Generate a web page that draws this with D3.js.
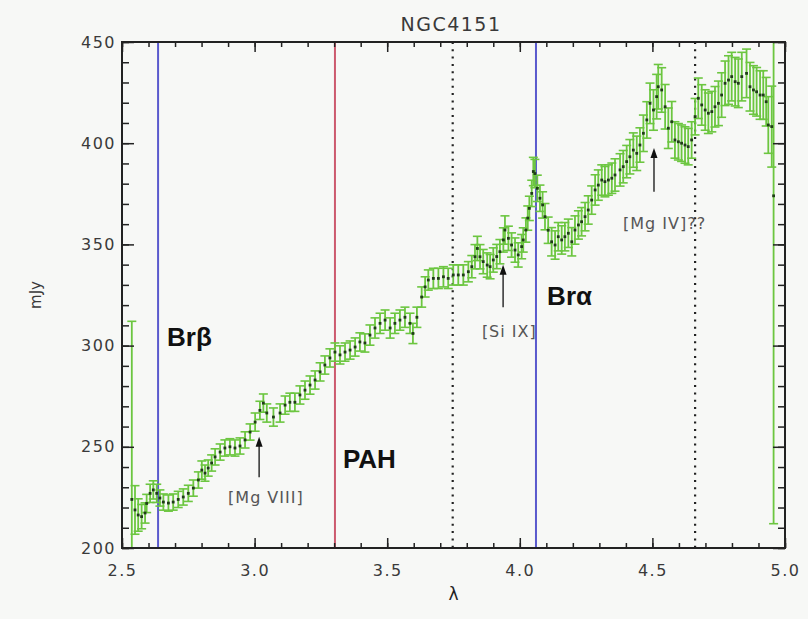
<!DOCTYPE html>
<html>
<head>
<meta charset="utf-8">
<script src="https://cdn.jsdelivr.net/npm/d3@7"></script>
<style>
  body { margin: 0; background: #f7f8f6; }
  svg text { font-family: "DejaVu Sans", sans-serif; }
</style>
</head>
<body>
<div id="chart"></div>
<script>
// spectrum
const lambda = [2.537, 2.549, 2.561, 2.574, 2.587, 2.593, 2.606, 2.618, 2.631, 2.643,
  2.656, 2.675, 2.693, 2.712, 2.731, 2.750, 2.769, 2.788, 2.801, 2.813,
  2.825, 2.838, 2.851, 2.870, 2.888, 2.907, 2.926, 2.945, 2.964, 2.983,
  3.002, 3.020, 3.033, 3.046, 3.071, 3.096, 3.115, 3.133, 3.152, 3.171,
  3.190, 3.209, 3.228, 3.247, 3.265, 3.284, 3.303, 3.322, 3.341, 3.360,
  3.379, 3.397, 3.416, 3.435, 3.454, 3.473, 3.492, 3.511, 3.529, 3.548,
  3.567, 3.586, 3.597, 3.612, 3.630, 3.643, 3.655, 3.674, 3.693, 3.712,
  3.730, 3.749, 3.768, 3.787, 3.806, 3.819, 3.831, 3.840, 3.850, 3.862,
  3.877, 3.888, 3.900, 3.913, 3.925, 3.938, 3.944, 3.957, 3.969, 3.982,
  3.994, 4.007, 4.013, 4.023, 4.030, 4.036, 4.045, 4.051, 4.057, 4.066,
  4.076, 4.086, 4.095, 4.107, 4.120, 4.133, 4.145, 4.158, 4.170, 4.183,
  4.196, 4.208, 4.221, 4.233, 4.246, 4.258, 4.271, 4.284, 4.296, 4.309,
  4.321, 4.334, 4.347, 4.359, 4.378, 4.390, 4.403, 4.415, 4.428, 4.441,
  4.453, 4.466, 4.479, 4.491, 4.504, 4.516, 4.522, 4.535, 4.548, 4.560,
  4.573, 4.585, 4.598, 4.610, 4.623, 4.635, 4.648, 4.661, 4.673, 4.686,
  4.699, 4.711, 4.724, 4.736, 4.749, 4.761, 4.774, 4.787, 4.799, 4.812,
  4.824, 4.837, 4.855, 4.868, 4.881, 4.893, 4.906, 4.918, 4.929, 4.937,
  4.950, 4.957];
const flux = [224.0, 218.8, 216.3, 215.5, 217.3, 222.0, 227.0, 228.7, 227.0, 224.7,
  222.7, 222.2, 222.7, 224.0, 225.2, 227.0, 229.6, 233.6, 238.5, 237.0,
  239.5, 242.0, 245.0, 247.4, 249.4, 250.0, 249.4, 250.4, 253.4, 257.3,
  262.2, 268.0, 271.6, 266.7, 264.7, 266.7, 270.6, 272.0, 272.0, 275.6,
  278.0, 280.5, 283.0, 287.0, 290.4, 293.9, 296.8, 295.4, 296.8, 297.8,
  299.3, 301.8, 301.3, 305.2, 308.7, 311.0, 312.6, 308.7, 311.0, 312.6,
  314.0, 311.0, 306.0, 314.0, 324.0, 329.0, 332.4, 333.2, 333.2, 334.0,
  333.2, 334.9, 334.9, 334.9, 336.5, 339.0, 343.9, 348.0, 343.9, 341.5,
  339.8, 339.0, 342.3, 344.0, 346.4, 352.2, 357.1, 353.0, 349.7, 347.2,
  344.8, 348.9, 352.2, 357.1, 363.0, 367.8, 375.2, 386.0, 385.0, 377.7,
  372.8, 369.5, 363.7, 357.0, 351.3, 349.7, 353.8, 352.2, 353.8, 355.5,
  351.3, 357.1, 359.6, 361.2, 363.7, 367.0, 371.9, 376.9, 379.3, 381.8,
  381.0, 381.8, 382.7, 384.3, 386.8, 388.4, 390.9, 393.3, 396.6, 395.0,
  399.1, 404.9, 411.5, 419.7, 416.4, 423.0, 427.9, 426.3, 418.0, 407.4,
  410.6, 401.6, 400.7, 400.0, 399.1, 398.3, 401.6, 413.1, 422.2, 418.9,
  416.4, 414.8, 415.6, 418.0, 419.7, 423.8, 429.6, 431.2, 432.9, 430.4,
  429.6, 432.9, 434.5, 427.9, 426.3, 425.4, 423.8, 423.8, 420.5, 409.0,
  408.2, 374.0];
const fluxErr = [88, 12, 8, 6, 5, 4.5, 4.5, 4.5, 4.5, 4,
  4, 4, 4, 4, 4, 4, 4, 4, 4.5, 4,
  4, 4, 4, 4, 4, 4, 4, 4, 4, 4,
  4.5, 4.5, 4.5, 4.5, 4.5, 4.5, 4.5, 4.5, 4.5, 4.5,
  4.5, 4.5, 4.5, 4.5, 4.5, 4.5, 4.5, 4.5, 4.5, 4.5,
  4.5, 4.5, 4.5, 5, 5, 5, 5, 5, 5, 5,
  5, 5, 5, 5, 5, 5, 5, 5, 5, 5,
  5, 5, 5, 5, 5, 5.5, 6, 6, 6, 6,
  6, 6, 6, 6, 6, 6, 7, 6, 6, 6,
  6, 6, 6, 6, 6, 6, 6.5, 7, 7, 6.5,
  6.5, 6.5, 6.5, 6.5, 7, 7, 7, 7, 7, 7,
  7, 7, 7, 7, 7, 7, 7, 7.5, 7.5, 7.5,
  7.5, 7.5, 7.5, 8, 8, 8, 8, 8.5, 8.5, 8.5,
  8.5, 9, 9, 10, 10, 11, 11, 11, 11, 10,
  10, 9, 9, 9, 9, 9, 9, 9, 10, 10,
  10, 10, 10, 10, 11, 11, 11, 12, 12, 12,
  12, 12, 12, 12, 12, 12, 12, 12, 12, 14,
  20, 162];

const xMajor = [2.5, 3.0, 3.5, 4.0, 4.5, 5.0];
const xMinor = d3.range(26).map(i => 2.5 + i * 0.1);
const yMajor = [200, 250, 300, 350, 400, 450];
const yMinor = d3.range(26).map(i => 200 + i * 10);

// reference lines: wavelength + style
const refLines = [
  { lam: 2.636, color: "#5a5acd", dash: null },
  { lam: 3.303, color: "#cc5a6e", dash: null },
  { lam: 3.747, color: "#222", dash: "2,5.3" },
  { lam: 4.061, color: "#5a5acd", dash: null },
  { lam: 4.661, color: "#222", dash: "2,5.3" }
];

const bigLabels = [
  { text: "Brβ", lam: 2.670, f: 300 },
  { text: "PAH", lam: 3.333, f: 239.5 },
  { text: "Brα", lam: 4.103, f: 320 }
];

const lineLabels = [
  { text: "[Mg VIII]", lam: 2.900, f: 222, arrowLam: 3.017, from: 235, to: 255 },
  { text: "[Si IX]", lam: 3.857, f: 304.2, arrowLam: 3.937, from: 319, to: 340 },
  { text: "[Mg IV]??", lam: 4.389, f: 357.6, arrowLam: 4.506, from: 376, to: 397.6 }
];

const width = 808, height = 619;
const margin = { top: 42, right: 23, bottom: 71, left: 122 };
const w = width - margin.left - margin.right;
const h = height - margin.top - margin.bottom;

const svg = d3.select("#chart").append("svg")
  .attr("width", width)
  .attr("height", height);

svg.append("rect").attr("width", width).attr("height", height).attr("fill", "#f7f8f6");

svg.append("defs").append("clipPath").attr("id", "plotclip")
  .append("rect").attr("width", w).attr("height", h);

const g = svg.append("g").attr("transform", `translate(${margin.left},${margin.top})`);

const x = d3.scaleLinear().domain([2.5, 5.0]).range([0, w]);
const y = d3.scaleLinear().domain([200, 450]).range([h, 0]);

const data = lambda.map((l, i) => ({ lam: l, f: flux[i], e: fluxErr[i] }));

// vertical reference lines
g.selectAll(".ref").data(refLines).enter().append("line")
  .attr("x1", d => x(d.lam)).attr("x2", d => x(d.lam))
  .attr("y1", 0).attr("y2", h)
  .attr("stroke", d => d.color)
  .attr("stroke-width", d => d.dash ? 2.2 : 2)
  .attr("stroke-dasharray", d => d.dash);

// error bars
const bars = g.append("g").attr("clip-path", "url(#plotclip)");
const green = "#6cc640";
bars.selectAll(".eb").data(data).enter().append("line")
  .attr("x1", d => x(d.lam)).attr("x2", d => x(d.lam))
  .attr("y1", d => y(d.f - d.e)).attr("y2", d => y(d.f + d.e))
  .attr("stroke", green).attr("stroke-width", 1.8);
["lo", "hi"].forEach(k => {
  bars.selectAll(".cap-" + k).data(data).enter().append("line")
    .attr("x1", d => x(d.lam) - 4.5).attr("x2", d => x(d.lam) + 4.5)
    .attr("y1", d => y(k === "lo" ? d.f - d.e : d.f + d.e))
    .attr("y2", d => y(k === "lo" ? d.f - d.e : d.f + d.e))
    .attr("stroke", green).attr("stroke-width", 1.6);
});
bars.selectAll(".pt").data(data).enter().append("rect")
  .attr("x", d => x(d.lam) - 1.4).attr("y", d => y(d.f) - 1.4)
  .attr("width", 2.8).attr("height", 2.8)
  .attr("fill", "#1e3d16");

// axes (ticks inside, IDL style)
function styleAxis(sel) {
  sel.select(".domain").remove();
  sel.selectAll(".tick line").attr("stroke", "#222").attr("stroke-width", 1.5);
  sel.selectAll("text").attr("fill", "#3a3a3a").style("font-size", "16px").style("letter-spacing", "1.5px");
}
g.append("g").attr("transform", `translate(0,${h})`)
  .call(d3.axisBottom(x).tickValues(xMinor).tickSize(-5).tickFormat("")).call(styleAxis);
g.append("g").attr("transform", `translate(0,${h})`)
  .call(d3.axisBottom(x).tickValues(xMajor).tickSize(-10).tickPadding(17).tickFormat(d3.format(".1f"))).call(styleAxis);
g.append("g")
  .call(d3.axisTop(x).tickValues(xMinor).tickSize(-5).tickFormat("")).call(styleAxis);
g.append("g")
  .call(d3.axisTop(x).tickValues(xMajor).tickSize(-10).tickFormat("")).call(styleAxis);
g.append("g")
  .call(d3.axisLeft(y).tickValues(yMinor).tickSize(-7).tickFormat("")).call(styleAxis);
g.append("g")
  .call(d3.axisLeft(y).tickValues(yMajor).tickSize(-12).tickPadding(6).tickFormat(d3.format("d"))).call(styleAxis);
g.append("g").attr("transform", `translate(${w},0)`)
  .call(d3.axisRight(y).tickValues(yMinor).tickSize(-7).tickFormat("")).call(styleAxis);
g.append("g").attr("transform", `translate(${w},0)`)
  .call(d3.axisRight(y).tickValues(yMajor).tickSize(-12).tickFormat("")).call(styleAxis);

g.append("rect").attr("width", w).attr("height", h)
  .attr("fill", "none").attr("stroke", "#222").attr("stroke-width", 2);

// labels
svg.append("text").attr("x", 451).attr("y", 31).attr("text-anchor", "middle")
  .attr("fill", "#3a3a3a").style("font-size", "19px").style("letter-spacing", "1.5px")
  .text("NGC4151");
svg.append("text").attr("x", margin.left + w / 2).attr("y", 600).attr("text-anchor", "middle")
  .attr("fill", "#222").style("font-size", "17px").text("λ");
svg.append("text").attr("transform", `translate(41,${margin.top + h / 2}) rotate(-90)`)
  .attr("text-anchor", "middle").attr("fill", "#3a3a3a").style("font-size", "15px")
  .text("mJy");

g.selectAll(".big").data(bigLabels).enter().append("text")
  .attr("x", d => x(d.lam)).attr("y", d => y(d.f))
  .style("font-family", "'Liberation Sans', Arial, sans-serif")
  .style("font-weight", "bold").style("font-size", "26px").attr("fill", "#111")
  .text(d => d.text);

g.selectAll(".ll").data(lineLabels).enter().append("text")
  .attr("x", d => x(d.lam)).attr("y", d => y(d.f))
  .attr("fill", "#555").style("font-size", "16px").style("letter-spacing", "1px")
  .text(d => d.text);

g.selectAll(".arr").data(lineLabels).enter().append("line")
  .attr("x1", d => x(d.arrowLam)).attr("x2", d => x(d.arrowLam))
  .attr("y1", d => y(d.from)).attr("y2", d => y(d.to) + 8)
  .attr("stroke", "#111").attr("stroke-width", 1.3);
g.selectAll(".head").data(lineLabels).enter().append("path")
  .attr("d", d => {
    const ax = x(d.arrowLam), ay = y(d.to);
    return `M${ax},${ay} L${ax - 3.5},${ay + 10} L${ax + 3.5},${ay + 10} Z`;
  })
  .attr("fill", "#111");
</script>
</body>
</html>
